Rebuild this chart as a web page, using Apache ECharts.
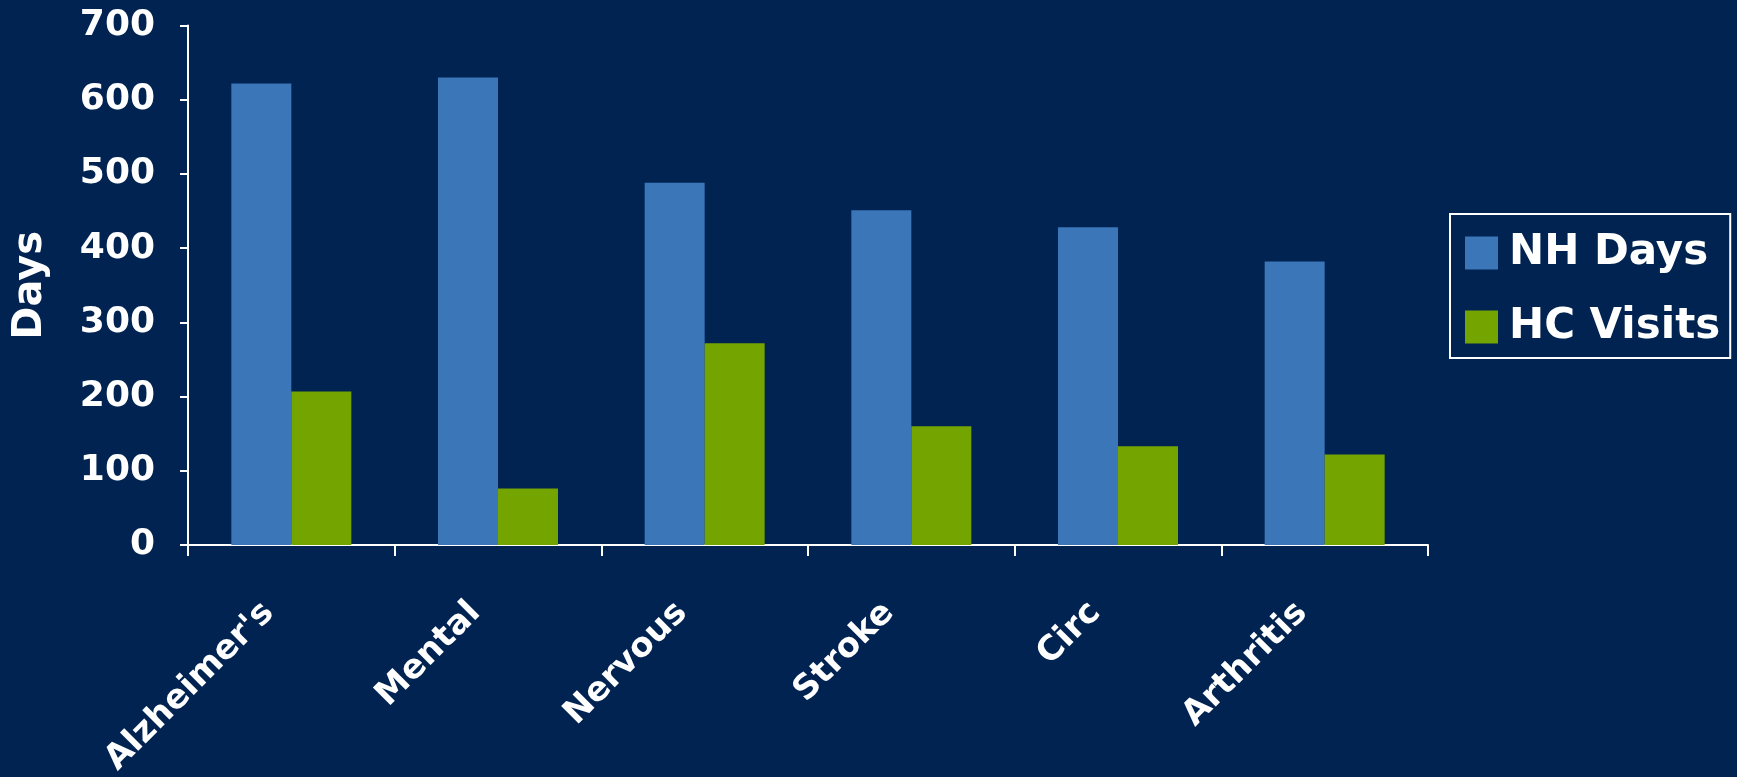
<!DOCTYPE html>
<html><head><meta charset="utf-8">
<script src="https://cdn.jsdelivr.net/npm/echarts@6/dist/echarts.min.js"></script>
<style>html,body{margin:0;padding:0;background:#002352;}#c{width:1737px;height:777px;}</style>
</head><body><div id="c"></div>
<script>
const categories = ["Alzheimer's", "Mental", "Nervous", "Stroke", "Circ", "Arthritis"];
const nhDays = [622, 630, 488, 451, 428, 382];
const hcVisits = [207, 76, 272, 160, 133, 122];
const seriesNames = ["NH Days", "HC Visits"];
const yTitle = "Days";

const font = "DejaVu Sans";
const chart = echarts.init(document.getElementById('c'));
chart.setOption({
  backgroundColor: '#002352',
  animation: false,
  grid: { left: 188, right: 309, top: 25.5, bottom: 232, containLabel: false, outerBoundsMode: 'none' },
  legend: {
    orient: 'vertical', left: 1450, top: 214,
    padding: [18, 10, 10, 15],
    borderColor: '#ffffff', borderWidth: 2,
    itemWidth: 33, itemHeight: 33, itemGap: 32,
    icon: 'rect',
    textStyle: { color: '#ffffff', fontFamily: font, fontWeight: 'bold', fontSize: 42, lineHeight: 40, padding: [0,0,0,6] },
    data: seriesNames
  },
  xAxis: {
    type: 'category', data: categories,
    axisLine: { lineStyle: { color: '#ffffff', width: 2 } },
    axisTick: { show: true, length: 11, lineStyle: { color: '#ffffff', width: 2 } },
    axisLabel: { color: '#ffffff', fontFamily: font, fontWeight: 'bold', fontSize: 34, rotate: 45, margin: 40, interval: 0, padding: [0, 32, 0, 0] }
  },
  yAxis: {
    type: 'value', min: 0, max: 700, interval: 100,
    name: yTitle, nameLocation: 'middle', nameRotate: 90, nameGap: 137,
    nameTextStyle: { color: '#ffffff', fontFamily: font, fontWeight: 'bold', fontSize: 40 },
    axisLine: { show: true, lineStyle: { color: '#ffffff', width: 2 } },
    axisTick: { show: true, length: 8, lineStyle: { color: '#ffffff', width: 2 } },
    splitLine: { show: false },
    axisLabel: { color: '#ffffff', fontFamily: font, fontWeight: 'bold', fontSize: 36, margin: 33 }
  },
  series: [
    { name: seriesNames[0], type: 'bar', data: nhDays, barWidth: 60, barGap: '0%', itemStyle: { color: '#3A76B8' } },
    { name: seriesNames[1], type: 'bar', data: hcVisits, barWidth: 60, barGap: '0%', itemStyle: { color: '#74A400' } }
  ]
});
</script></body></html>
